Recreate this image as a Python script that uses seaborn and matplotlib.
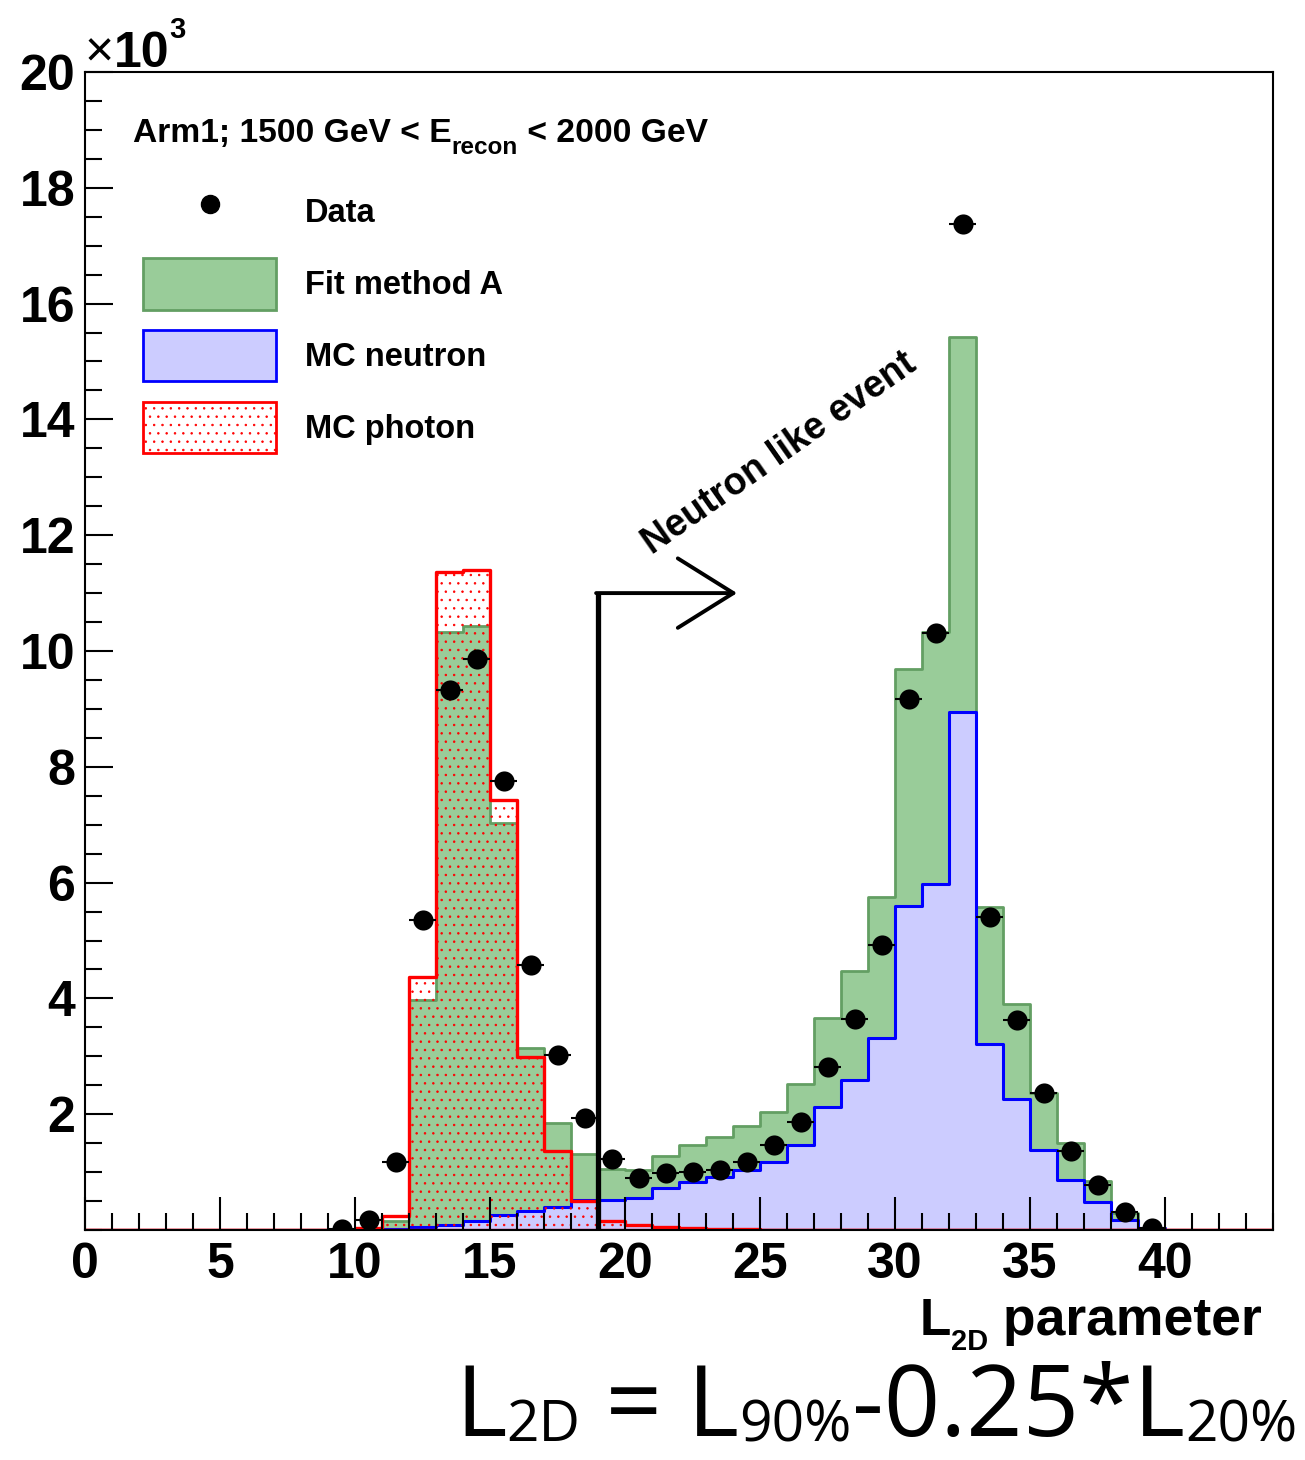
import numpy as np
import pandas as pd
import matplotlib
matplotlib.use("Agg")
import matplotlib.pyplot as plt
import seaborn as sns
from matplotlib.lines import Line2D
from matplotlib.patches import Patch
from matplotlib.ticker import MultipleLocator, FixedLocator

# ---------------- data (unit-width bins from 0 to 44, contents in 10^3 events) -------------
bin_edges = list(range(0, 45))
fit_method_A = [0, 0, 0, 0, 0, 0, 0, 0, 0, 0,
                0.02, 0.15, 3.98, 10.32, 10.43, 7.03, 3.15, 1.85, 1.31, 1.05,
                1.03, 1.28, 1.46, 1.61, 1.80, 2.04, 2.53, 3.67, 4.48, 5.75,
                9.69, 10.33, 15.43, 5.57, 3.90, 2.37, 1.51, 0.85, 0.29, 0.03,
                0, 0, 0, 0]
mc_neutron = [0, 0, 0, 0, 0, 0, 0, 0, 0, 0,
              0.0, 0.02, 0.05, 0.09, 0.16, 0.26, 0.32, 0.40, 0.52, 0.51,
              0.55, 0.72, 0.83, 0.92, 1.04, 1.18, 1.47, 2.12, 2.59, 3.31,
              5.60, 5.97, 8.95, 3.22, 2.26, 1.38, 0.86, 0.48, 0.18, 0.03,
              0, 0, 0, 0]
mc_photon = [0, 0, 0, 0, 0, 0, 0, 0, 0, 0,
             0.03, 0.24, 4.37, 11.36, 11.40, 7.42, 2.99, 1.36, 0.50, 0.16,
             0.08, 0.05, 0.03, 0.02, 0.01, 0, 0, 0, 0, 0,
             0, 0, 0, 0, 0, 0, 0, 0, 0, 0,
             0, 0, 0, 0]
data_x = [9.5, 10.5, 11.5, 12.5, 13.5, 14.5, 15.5, 16.5, 17.5, 18.5,
          19.5, 20.5, 21.5, 22.5, 23.5, 24.5, 25.5, 26.5, 27.5, 28.5,
          29.5, 30.5, 31.5, 32.5, 33.5, 34.5, 35.5, 36.5, 37.5, 38.5, 39.5]
data_y = [0.01, 0.17, 1.17, 5.36, 9.32, 9.86, 7.76, 4.57, 3.02, 1.94,
          1.22, 0.90, 0.98, 1.01, 1.03, 1.18, 1.46, 1.87, 2.81, 3.64,
          4.93, 9.17, 10.31, 17.37, 5.41, 3.62, 2.36, 1.37, 0.78, 0.31, 0.03]
x_ticks = [0, 5, 10, 15, 20, 25, 30, 35, 40]
y_ticks = [2, 4, 6, 8, 10, 12, 14, 16, 18, 20]
legend_labels = ["Data", "Fit method A", "MC neutron", "MC photon"]
cut_value = 19.0
arrow_height = 11.0
arrow_end = 24.15

# ---------------- style ----------------
plt.rcParams["font.family"] = ["Liberation Sans", "DejaVu Sans"]
plt.rcParams["font.weight"] = "bold"
plt.rcParams["hatch.color"] = "red"
plt.rcParams["hatch.linewidth"] = 0.55

W, H = 1305, 1460
fig = plt.figure(figsize=(W / 100, H / 100), dpi=100)
fig.patch.set_facecolor("white")
ax = fig.add_axes([85 / W, 1 - 1230 / H, 1188 / W, 1158 / H])

centers = [(bin_edges[i] + bin_edges[i + 1]) / 2 for i in range(len(bin_edges) - 1)]
df = pd.DataFrame({"L2D": centers, "fit": fit_method_A,
                   "neutron": mc_neutron, "photon": mc_photon})

sns.histplot(data=df, x="L2D", weights="fit", bins=bin_edges, element="step",
             fill=True, color="#99cc99", facecolor="#99cc99", edgecolor="#639f63",
             linewidth=2.0, ax=ax)
sns.histplot(data=df, x="L2D", weights="neutron", bins=bin_edges, element="step",
             fill=True, color="#ccccff", facecolor="#ccccff", edgecolor="#0000ff",
             linewidth=2.2, ax=ax)
sns.histplot(data=df, x="L2D", weights="photon", bins=bin_edges, element="step",
             fill=True, color="#ff0000", facecolor="none", edgecolor="#ff0000",
             hatch="..", linewidth=2.4, ax=ax)

# data points with horizontal bin-width bars
ax.errorbar(data_x, data_y, xerr=0.5, fmt="none", ecolor="black",
            elinewidth=1.5, capsize=0, zorder=4)
sns.scatterplot(x=data_x, y=data_y, color="black", s=210, linewidth=0,
                zorder=5, ax=ax)

# cut line + arrow
ax.plot([cut_value, cut_value], [0, arrow_height], color="black", lw=3.8,
        solid_capstyle="butt", zorder=6)
ax.annotate("", xy=(arrow_end, arrow_height), xytext=(cut_value - 0.07, arrow_height),
            arrowprops=dict(arrowstyle="->,head_length=4,head_width=2.5",
                            mutation_scale=10, lw=2.8, color="black",
                            shrinkA=0, shrinkB=0), zorder=6)
ax.text(21.0, 11.65, "Neutron like event", rotation=35, rotation_mode="anchor",
        ha="left", va="baseline", fontsize=27, fontweight="bold")

# axes
ax.set_xlim(0, 44)
ax.set_ylim(0, 20)
ax.set_xlabel("")
ax.set_ylabel("")
ax.xaxis.set_major_locator(FixedLocator(x_ticks))
ax.set_xticklabels([str(v) for v in x_ticks])
ax.xaxis.set_minor_locator(MultipleLocator(1))
ax.yaxis.set_major_locator(FixedLocator(y_ticks))
ax.set_yticklabels([str(v) for v in y_ticks])
ax.yaxis.set_minor_locator(MultipleLocator(0.5))
ax.tick_params(axis="both", which="both", direction="in", width=1.5,
               top=False, right=False, labelsize=36, color="black")
ax.tick_params(axis="x", which="major", length=24, pad=9)
ax.tick_params(axis="x", which="minor", length=12)
ax.tick_params(axis="y", which="major", length=20, pad=7)
ax.tick_params(axis="y", which="minor", length=12)
for lab in ax.get_xticklabels() + ax.get_yticklabels():
    lab.set_fontweight("bold")
for sp in ax.spines.values():
    sp.set_linewidth(1.5)
    sp.set_color("black")
    sp.set_zorder(7)

# legend
handles = [
    Line2D([], [], marker="o", color="black", ls="none", markersize=13),
    Patch(facecolor="#99cc99", edgecolor="#639f63", linewidth=2),
    Patch(facecolor="#ccccff", edgecolor="#0000ff", linewidth=2),
    Patch(facecolor="white", edgecolor="#ff0000", hatch="..", linewidth=2),
]
ax.legend(handles, legend_labels, loc="upper left", bbox_to_anchor=(0.0488, 0.9011),
          frameon=False, fontsize=23.5, handlelength=4.08, handleheight=2.03,
          labelspacing=0.64, handletextpad=0.89, borderpad=0, borderaxespad=0,
          numpoints=1)


def fy(px_top):
    return H - px_top


def chain(prev, s, base_px, **kw):
    return ax.annotate(s, xy=(1, fy(base_px)), xycoords=(prev, "figure pixels"),
                       va="baseline", ha="left", annotation_clip=False, **kw)


# header text
t = fig.text(133 / W, fy(142) / H, "Arm1; 1500 GeV < E", fontsize=24.2,
             fontweight="bold", va="baseline", ha="left")
t = chain(t, "recon", 154, fontsize=17.5, fontweight="bold")
chain(t, " < 2000 GeV", 142, fontsize=24.2, fontweight="bold")

# x10^3
t = fig.text(85 / W, fy(67) / H, "\u00d7", fontsize=36, fontweight="normal",
             va="baseline", ha="left")
t = chain(t, "10", 67, fontsize=36, fontweight="bold")
chain(t, "3", 38, fontsize=21, fontweight="bold")

# x axis title
t = fig.text(920 / W, fy(1335) / H, "L", fontsize=37, fontweight="bold",
             va="baseline", ha="left")
t = chain(t, "2D", 1350, fontsize=21, fontweight="bold")
chain(t, " parameter", 1335, fontsize=38.5, fontweight="bold")

# formula
ff = ["Open Sans", "DejaVu Sans"]
t = fig.text(455 / W, fy(1436) / H, "L", fontsize=71, fontweight="normal",
             family=ff, va="baseline", ha="left")
t = chain(t, "2D", 1441, fontsize=41, fontweight="normal", family=ff)
t = chain(t, " = L", 1436, fontsize=71, fontweight="normal", family=ff)
t = chain(t, "90%", 1441, fontsize=41, fontweight="normal", family=ff)
t = chain(t, "-0.25*L", 1436, fontsize=71, fontweight="normal", family=ff)
chain(t, "20%", 1441, fontsize=41, fontweight="normal", family=ff)

fig.savefig("out.png", dpi=100, facecolor="white")
